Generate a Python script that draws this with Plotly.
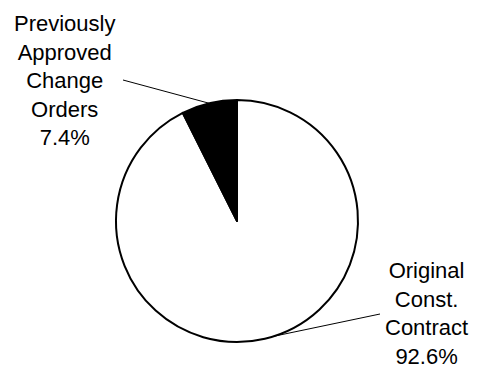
import math
import plotly.graph_objects as go

# Contract breakdown
labels = ["Original<br>Const.<br>Contract", "Previously<br>Approved<br>Change<br>Orders"]
values = [92.6, 7.4]
colors = ["white", "black"]

W, H = 482, 368
# pie placement in paper fractions
dom_x = [116 / W, 358 / W]
dom_y = [26 / H, 268 / H]

# counterclockwise: the last slice sits just left of 12 o'clock
fig = go.Figure(go.Pie(
    labels=labels,
    values=values,
    sort=False,
    direction="counterclockwise",
    rotation=0,
    textinfo="none",
    hoverinfo="label+percent",
    marker=dict(colors=colors, line=dict(color="black", width=2)),
    domain=dict(x=dom_x, y=dom_y),
    showlegend=False,
))

# geometry of the pie in pixels
cx = (dom_x[0] + dom_x[1]) / 2 * W
cy = (1 - (dom_y[0] + dom_y[1]) / 2) * H
r = min((dom_x[1] - dom_x[0]) * W, (dom_y[1] - dom_y[0]) * H) / 2

total = sum(values)

def point_on_rim(frac):
    # fraction of the way round, going left from 12 o'clock
    a = 2 * math.pi * frac
    return cx - r * math.sin(a), cy - r * math.cos(a)

# mid-angle of each slice, walking leftwards from 12 o'clock (last slice first)
anchors = [0.0] * len(values)
cum = 0.0
for i in reversed(range(len(values))):
    anchors[i] = (cum + values[i] / 2) / total
    cum += values[i]
anchors[0] += 0.012

# leader lines: rim anchor -> label end (pixels)
label_ends = [(380, 314), (123, 80)]
for frac, (ex, ey) in zip(anchors, label_ends):
    sx, sy = point_on_rim(frac)
    fig.add_shape(type="line", xref="paper", yref="paper",
                  x0=sx / W, y0=1 - sy / H, x1=ex / W, y1=1 - ey / H,
                  line=dict(color="black", width=1))

font = dict(family="Liberation Sans, Arial, sans-serif", size=22, color="black")
label_pos = [(426, 256), (64, 9)]
for lab, v, (lx, ly) in zip(labels, values, label_pos):
    fig.add_annotation(text=f"{lab}<br>{v:.1f}%", xref="paper", yref="paper",
                       x=lx / W, y=1 - ly / H, xanchor="center", yanchor="top",
                       showarrow=False, align="center", font=font)

fig.update_layout(width=W, height=H, margin=dict(l=0, r=0, t=0, b=0),
                  paper_bgcolor="white", plot_bgcolor="white")
fig.write_html("out.html")
